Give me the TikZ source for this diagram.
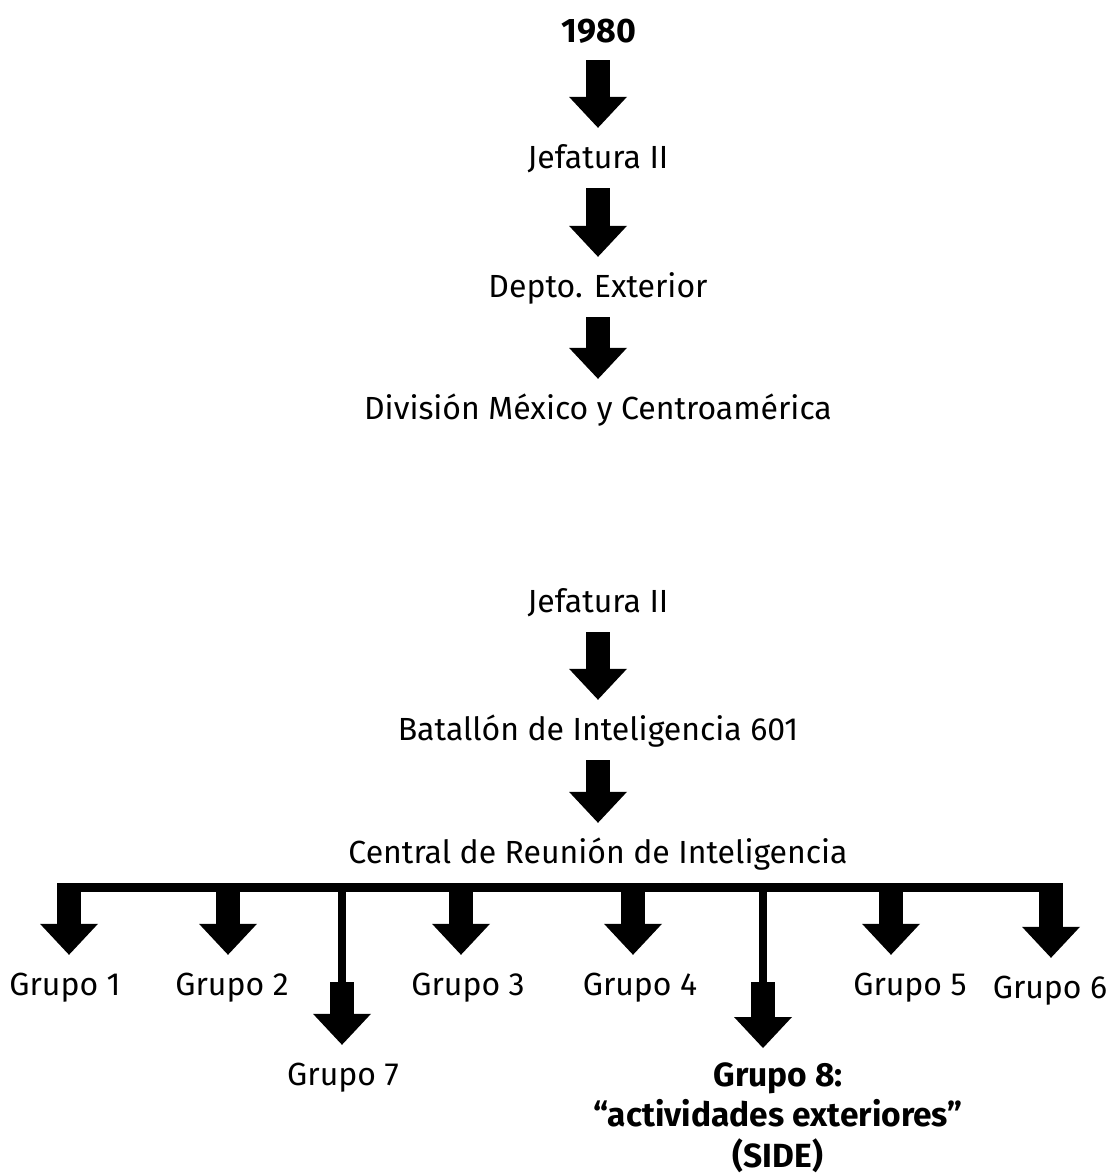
\documentclass[tikz,border=0pt]{standalone}
\usepackage{fontspec}
\setmainfont{Fira Sans}
\usetikzlibrary{arrows.meta}
\begin{document}
\begin{tikzpicture}[x=1pt,y=-1pt,
  lbl/.style={font=\fontsize{32}{38}\selectfont, text height=21pt, text depth=0pt, inner xsep=0pt, inner ysep=19.5pt},
  blbl/.style={lbl, font=\fontsize{34}{40}\selectfont\bfseries, text height=24pt, inner ysep=18pt},
  grp8/.style={font=\fontsize{33.5}{40.5}\selectfont\bfseries, align=center, anchor=north, inner xsep=0pt, inner ysep=14pt},
  bigarrow/.style={line width=24pt, -{Triangle[width=58pt,length=31pt,line width=0pt]}},
  barline/.style={line width=9pt},
  thinline/.style={line width=8pt}]
\useasboundingbox (0,0) rectangle (1118,1176);
% first chain
\node[blbl] (y1980) at (599,30) {1980};
\node[lbl] (j1) at (598,158) {Jefatura II};
\node[lbl] (dep) at (598,287) {Depto. Exterior};
\node[lbl] (div) at (598,409) {División México y Centroamérica};
\draw[bigarrow] (y1980.south -| j1) -- (j1.north);
\draw[bigarrow] (j1.south) -- (dep.north);
\draw[bigarrow] (dep.south) -- (div.north);
% second chain
\node[lbl] (j2) at (598,602) {Jefatura II};
\node[lbl] (bat) at (598,730) {Batallón de Inteligencia 601};
\node[lbl] (cen) at (598,853) {Central de Reunión de Inteligencia};
\draw[bigarrow] (j2.south) -- (bat.north);
\draw[bigarrow] (bat.south) -- (cen.north);
% groups
\node[lbl] (g1) at (65,985) {Grupo 1};
\node[lbl] (g2) at (232,985) {Grupo 2};
\node[lbl] (g3) at (468,985) {Grupo 3};
\node[lbl] (g4) at (640,985) {Grupo 4};
\node[lbl] (g5) at (910,985) {Grupo 5};
\node[lbl] (g6) at (1050,988) {Grupo 6};
\node[lbl] (g7) at (343,1075) {Grupo 7};
\node[grp8] (g8) at (778,1048) {Grupo 8:\\“actividades exteriores”\\(SIDE)};
% bar
\coordinate (barL) at (57,887.5);
\coordinate (barR) at (1063,887.5);
\draw[barline] (barL) -- (barR);
\coordinate (b1) at (69,884);
\coordinate (b2) at (228,884);
\coordinate (b3) at (461,884);
\coordinate (b4) at (633,884);
\coordinate (b5) at (891,884);
\coordinate (b6) at (1051,884);
\coordinate (b7) at (342,884);
\coordinate (k7) at (342,982);
\coordinate (b8) at (763,884);
\coordinate (k8) at (763,982);
\draw[bigarrow] (b1) -- (b1 |- g1.north);
\draw[bigarrow] (b2) -- (b2 |- g2.north);
\draw[bigarrow] (b3) -- (b3 |- g3.north);
\draw[bigarrow] (b4) -- (b4 |- g4.north);
\draw[bigarrow] (b5) -- (b5 |- g5.north);
\draw[bigarrow] (b6) -- (b6 |- g6.north);
\draw[thinline] (b7) -- (k7);
\draw[bigarrow] (k7) -- (k7 |- g7.north);
\draw[thinline] (b8) -- (k8);
\draw[bigarrow] (k8) -- (k8 |- g8.north);
\end{tikzpicture}
\end{document}
